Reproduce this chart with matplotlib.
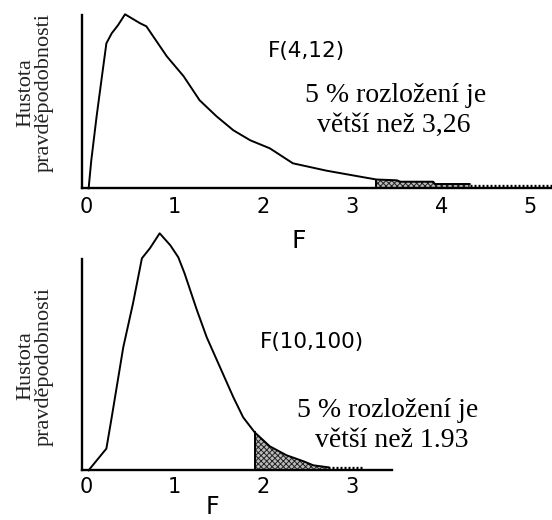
import matplotlib.pyplot as plt
import numpy as np

plt.rcParams['hatch.linewidth'] = 0.7

# F(4,12) curve (relative density)
f_top = [0.03, 0.06, 0.12, 0.18, 0.23, 0.29, 0.36, 0.44, 0.61, 0.68, 0.91, 1.10,
         1.28, 1.47, 1.66, 1.85, 2.07, 2.33, 2.71, 3.09, 3.27, 3.50, 3.54, 3.91,
         3.93, 4.32]
d_top = [0.0, 0.28, 0.72, 1.12, 1.45, 1.55, 1.63, 1.74, 1.65, 1.62, 1.32, 1.12,
         0.88, 0.72, 0.58, 0.48, 0.40, 0.25, 0.176, 0.116, 0.088, 0.080, 0.066, 0.066,
         0.043, 0.043]
tail_top = [4.32, 5.25]
tail_top_d = [0.025, 0.025]
crit_top = 3.27

# F(10,100) curve
f_bot = [0.03, 0.23, 0.29, 0.42, 0.53, 0.63, 0.72, 0.83, 0.95, 1.04, 1.11, 1.25,
         1.36, 1.51, 1.66, 1.77, 1.90, 2.07, 2.26, 2.45, 2.56, 2.73]
d_bot = [0.0, 0.217, 0.53, 1.23, 1.67, 2.12, 2.22, 2.37, 2.25, 2.13, 1.97, 1.60,
         1.33, 1.03, 0.73, 0.53, 0.38, 0.24, 0.15, 0.09, 0.05, 0.03]
tail_bot = [2.73, 3.12]
tail_bot_d = [0.02, 0.02]
crit_bot = 1.90

ticks_top = [0, 1, 2, 3, 4, 5]
ticks_bot = [0, 1, 2, 3]

W, H = 552, 520
def px(x, y):
    return x / W, 1 - y / H

fig = plt.figure(figsize=(5.52, 5.2), dpi=100)

ax1 = fig.add_axes([81.7/W, (H-188.3)/H, (W-81.7)/W, (188.3-15)/H])
ax2 = fig.add_axes([81.7/W, (H-470.3)/H, (391.7-81.7)/W, (470.3-259)/H])

def draw(ax, f, d, tail, tail_d, crit, ticks, xlim, ylim, pad):
    f = np.array(f)
    d = np.array(d)
    ax.plot(f, d, color='black', lw=1.4, clip_on=False)
    m = f >= crit
    ax.fill_between(f[m], 0, d[m], facecolor='#bbbbbb', edgecolor='#222222',
                    hatch='xxxxxx', linewidth=0)
    ax.plot([crit, crit], [0, d[m][0]], color='black', lw=1.4)
    ax.plot(tail, tail_d, color='black', lw=2.4, ls=(0, (0.6, 0.6)), clip_on=False)
    ax.set_xlim(xlim)
    ax.set_ylim(ylim)
    ax.set_xticks(ticks)
    ax.set_xticklabels([str(t) for t in ticks], fontsize=15, family='DejaVu Sans')
    ax.set_yticks([])
    ax.tick_params(axis='x', length=0, pad=pad)
    for s in ['top', 'right']:
        ax.spines[s].set_visible(False)
    for s in ['left', 'bottom']:
        ax.spines[s].set_linewidth(1.7)
    ax.patch.set_alpha(0)

draw(ax1, f_top, d_top, tail_top, tail_top_d, crit_top, ticks_top, (-0.048, 5.248), (0, 1.733), 6)
draw(ax2, f_bot, d_bot, tail_bot, tail_bot_d, crit_bot, ticks_bot, (-0.048, 3.443), (0, 2.113), 5)

serif = 'Liberation Serif'

# top panel texts
fig.text(*px(306, 57), 'F(4,12)', fontsize=15.5, family='DejaVu Sans', ha='center', va='baseline')
fig.text(*px(396, 101.7), '5 % rozložení je', fontsize=20, family=serif, ha='center', va='baseline')
fig.text(*px(394, 131.7), 'větší než 3,26', fontsize=20, family=serif, ha='center', va='baseline')
fig.text(*px(299, 248), 'F', fontsize=18, family='DejaVu Sans', ha='center', va='baseline')
fig.text(*px(35, 93), 'Hustota\npravděpodobnosti', fontsize=16, family=serif, rotation=90,
         ha='center', va='center', multialignment='center', linespacing=1.0, color='#222222')

# bottom panel texts
fig.text(*px(312, 348), 'F(10,100)', fontsize=15.5, family='DejaVu Sans', ha='center', va='baseline')
fig.text(*px(388, 416.7), '5 % rozložení je', fontsize=20, family=serif, ha='center', va='baseline')
fig.text(*px(391.5, 446.7), 'větší než 1.93', fontsize=20, family=serif, ha='center', va='baseline')
fig.text(*px(212.5, 519.5), 'F', fontsize=17, family='DejaVu Sans', ha='center', va='bottom')
fig.text(*px(35, 366), 'Hustota\npravděpodobnosti', fontsize=16, family=serif, rotation=90,
         ha='center', va='center', multialignment='center', linespacing=1.0, color='#222222')

fig.savefig('out.png', dpi=100)
